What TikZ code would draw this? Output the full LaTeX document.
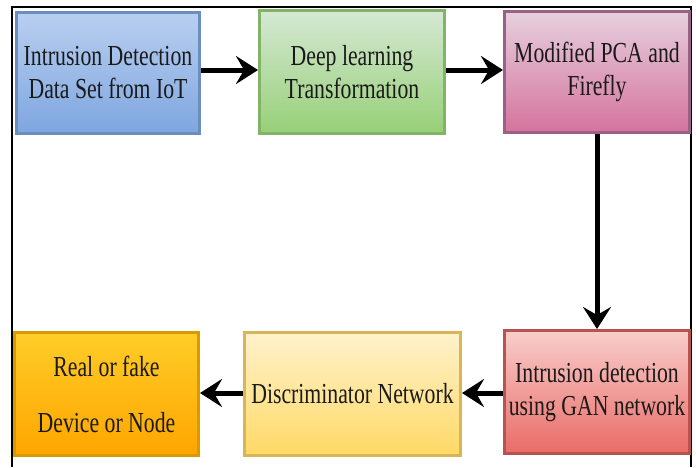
\documentclass[tikz,border=0pt]{standalone}
\usepackage{fontspec}
\usepackage{graphicx}
\setmainfont{Liberation Serif}
\usetikzlibrary{arrows.meta}

% narrow a line of text horizontally
\newcommand{\narrowline}[1]{\scalebox{0.75}[1]{#1}}

\definecolor{blueTop}{HTML}{B9CFF0}
\definecolor{blueBot}{HTML}{7EA6E0}
\definecolor{blueLine}{HTML}{6C8EBF}
\definecolor{greenTop}{HTML}{D5E8D4}
\definecolor{greenBot}{HTML}{97D077}
\definecolor{greenLine}{HTML}{82B366}
\definecolor{pinkTop}{HTML}{E6D0DE}
\definecolor{pinkBot}{HTML}{D5739D}
\definecolor{pinkLine}{HTML}{996185}
\definecolor{orangeTop}{HTML}{FFCD28}
\definecolor{orangeBot}{HTML}{FFA500}
\definecolor{orangeLine}{HTML}{D79B00}
\definecolor{yellowTop}{HTML}{FFF2CC}
\definecolor{yellowBot}{HTML}{FFD966}
\definecolor{yellowLine}{HTML}{D6B656}
\definecolor{redTop}{HTML}{F8CECC}
\definecolor{redBot}{HTML}{EA6B66}
\definecolor{redLine}{HTML}{B85450}
\definecolor{txt}{HTML}{1A1A1A}

\tikzset{
  stage/.style={rectangle, line width=3pt, align=center, text=txt,
    font=\fontsize{29}{33}\selectfont, inner sep=0pt,
    minimum width=185pt, minimum height=123pt},
  flow/.style={line width=5pt, -{Stealth[length=22pt,width=28pt,inset=8pt]}},
  frame/.style={line width=1.5pt, black}
}

\begin{document}
\begin{tikzpicture}[x=1pt, y=-1pt]
  \useasboundingbox (0,0) rectangle (696,467);

  % outer frame (open at the bottom)
  \draw[frame] (12,467) -- (12,7) -- (691,7) -- (691,467);

  % top row
  \node[stage, draw=blueLine, top color=blueTop, bottom color=blueBot,
        minimum width=183pt, minimum height=121pt] (b1) at (108,73)
        {\narrowline{Intrusion Detection}\\\narrowline{Data Set from IoT}};
  \node[stage, draw=greenLine, top color=greenTop, bottom color=greenBot] (b2) at (352,72)
        {\narrowline{Deep learning}\\\narrowline{Transformation}};
  \node[stage, draw=pinkLine, top color=pinkTop, bottom color=pinkBot,
        minimum height=121pt] (b3) at (597,72)
        {\narrowline{Modified PCA and}\\\narrowline{Firefly}};

  % bottom row
  \node[stage, draw=redLine, top color=redTop, bottom color=redBot] (b6) at (597,392)
        {\narrowline{Intrusion detection}\\\narrowline{using GAN network}};
  \node[stage, draw=yellowLine, top color=yellowTop, bottom color=yellowBot,
        minimum width=216pt] (b5) at (352.5,394)
        {\narrowline{Discriminator Network}};
  \node[stage, draw=orangeLine, top color=orangeTop, bottom color=orangeBot,
        minimum width=184pt] (b4) at (106.5,394)
        {\narrowline{Real or fake}\\[23pt]\narrowline{Device or Node}};

  % connectors
  \draw[flow] (b1.east |- 0,70) -- (b2.west |- 0,70);
  \draw[flow] (b2.east |- 0,70) -- (b3.west |- 0,70);
  \draw[flow] (b3.south) -- (b6.north);
  \draw[flow] (b6.west |- 0,393) -- (b5.east |- 0,393);
  \draw[flow] (b5.west |- 0,393) -- (b4.east |- 0,393);
\end{tikzpicture}
\end{document}
